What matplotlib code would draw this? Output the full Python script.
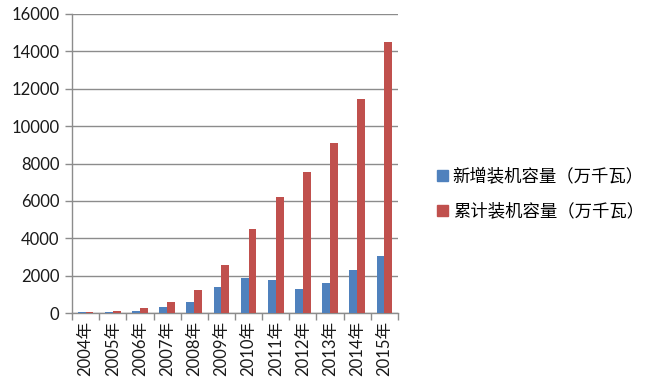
import matplotlib
matplotlib.use("Agg")
import matplotlib.pyplot as plt
from matplotlib.patches import Patch
import numpy as np

plt.rcParams['font.family'] = ['Lato', 'Noto Sans CJK SC', 'DejaVu Sans']

years = ['2004年', '2005年', '2006年', '2007年', '2008年', '2009年',
         '2010年', '2011年', '2012年', '2013年', '2014年', '2015年']
new_cap = [60, 60, 130, 330, 600, 1390, 1890, 1750, 1290, 1590, 2320, 3070]
cum_cap = [80, 110, 260, 590, 1220, 2550, 4470, 6210, 7520, 9120, 11450, 14480]
series_names = ['新增装机容量（万千瓦）', '累计装机容量（万千瓦）']
yticks = [0, 2000, 4000, 6000, 8000, 10000, 12000, 14000, 16000]

blue = '#4F81BD'
red = '#C0504D'
gridc = '#8C8C8C'

fig = plt.figure(figsize=(6.5, 3.88), dpi=100)
ax = fig.add_axes([72/650, 75/388, 326/650, 299/388])

x = np.arange(len(years))
w = 0.29
ax.bar(x - w/2, new_cap, w, color=blue, zorder=3)
ax.bar(x + w/2, cum_cap, w, color=red, zorder=3)

ax.set_xlim(-0.5, len(years) - 0.5)
ax.set_ylim(0, 16000)
ax.set_yticks(yticks)
ax.set_yticklabels([str(v) for v in yticks], fontsize=12, color='#1a1a1a')
ax.yaxis.grid(True, color=gridc, linewidth=1.0, zorder=0)
ax.tick_params(axis='y', length=5, color=gridc, width=1.0, pad=4)

ax.set_xticks(x)
ax.set_xticklabels(years, rotation=90, fontsize=12, color='#1a1a1a')
ax.tick_params(axis='x', length=0, pad=6)
ax.set_xticks(np.arange(-0.5, len(years)), minor=True)
ax.tick_params(axis='x', which='minor', length=5, color=gridc, width=1.0)

for s in ['top', 'right']:
    ax.spines[s].set_visible(False)
for s in ['left', 'bottom']:
    ax.spines[s].set_color(gridc)
    ax.spines[s].set_linewidth(1.0)

handles = [Patch(color=blue), Patch(color=red)]
fig.legend(handles, series_names, loc='center left', bbox_to_anchor=(425/650, 1 - 194/388),
           frameon=False, handlelength=0.6, handleheight=0.6,
           handletextpad=0.3, labelspacing=1.0, borderpad=0.2,
           prop={'family': ['Noto Sans CJK SC'], 'size': 12.5})

fig.savefig('out.png', dpi=100, facecolor='white')
